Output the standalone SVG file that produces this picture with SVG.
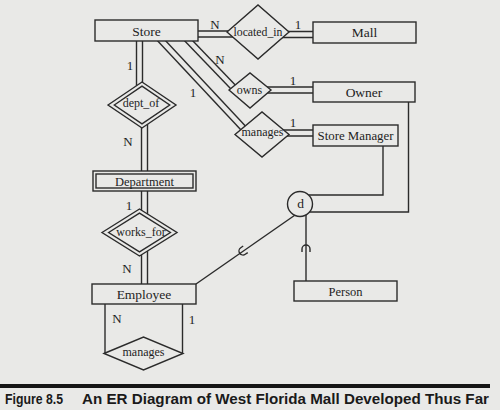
<svg xmlns="http://www.w3.org/2000/svg" width="500" height="410" viewBox="0 0 500 410">
<defs>
<style>
.bg{fill:#e9e9e7}
.shape{fill:#e9e9e7;stroke:#2b2b2b;stroke-width:1.4}
.ln{fill:none;stroke:#2b2b2b;stroke-width:1.4}
.dblo{fill:none;stroke:#2b2b2b;stroke-width:7.4}
.dbli{fill:none;stroke:#e9e9e7;stroke-width:4.6}
.t{font-family:"Liberation Serif","Times New Roman",serif;fill:#1e1e1e;text-anchor:middle}
.ent{font-size:13.5px}
.rel{font-size:12px}
.card{font-size:13px}
.cap{font-family:"Liberation Sans",Arial,sans-serif;font-weight:bold;font-size:14px;fill:#1a1a1a}
</style>
</defs>
<rect class="bg" x="0" y="0" width="500" height="410"/>

<g id="connectors">
  <g class="dblo">
    <path d="M198,34 H240"/>
    <path d="M276,34.5 H313"/>
    <path d="M262,90 H313"/>
    <path d="M276,133 H313"/>
    <path d="M186,38 L236,90"/>
    <path d="M159,38 L246,131"/>
    <path d="M139.5,41 V95"/>
    <path d="M144.5,115 V171"/>
    <path d="M144.5,191 V220"/>
    <path d="M144.5,245 V284"/>
  </g>
  <g class="dbli">
    <path d="M196,34 H242"/>
    <path d="M274,34.5 H315"/>
    <path d="M260,90 H315"/>
    <path d="M274,133 H315"/>
    <path d="M186,38 L236,90"/>
    <path d="M159,38 L246,131"/>
    <path d="M139.5,39 V97"/>
    <path d="M144.5,113 V173"/>
    <path d="M144.5,189 V222"/>
    <path d="M144.5,243 V286"/>
  </g>
  <path class="ln" d="M105,304 V353.5"/>
  <path class="ln" d="M182.5,304 V353.5"/>
  <path class="ln" d="M383,146 V195 H300"/>
  <path class="ln" d="M408.5,102 V212 H300"/>
  <path class="ln" d="M298,213 L196,284"/>
  <path class="ln" d="M306,214 V281"/>
  <path class="ln" d="M-4,3 V0 A4,4 0 0 1 4,0 V3" transform="translate(306,249)"/>
  <path class="ln" d="M-4,3 V0 A4,4 0 0 1 4,0 V3" transform="translate(243,251) rotate(-124.6)"/>
  <g class="t card">
    <text x="215" y="29">N</text>
    <text x="298" y="29">1</text>
    <text x="220" y="64">N</text>
    <text x="293" y="85">1</text>
    <text x="193" y="97">1</text>
    <text x="293" y="127">1</text>
    <text x="130" y="70">1</text>
    <text x="128" y="145.5">N</text>
    <text x="129" y="210">1</text>
    <text x="127" y="273">N</text>
    <text x="117" y="323">N</text>
    <text x="192" y="324">1</text>
  </g>
</g>

<g id="store">
  <rect class="shape" x="95" y="20" width="103" height="21"/>
  <text class="t ent" x="146.5" y="35.5">Store</text>
</g>
<g id="located_in">
  <polygon class="shape" points="227,32 258,5 289,32 258,59"/>
  <text class="t rel" x="258" y="35.5" textLength="49" lengthAdjust="spacingAndGlyphs">located_in</text>
</g>
<g id="mall">
  <rect class="shape" x="313" y="22" width="103" height="21"/>
  <text class="t ent" x="364.5" y="37">Mall</text>
</g>
<g id="owns">
  <polygon class="shape" points="229,90 250,73 271,90 250,108"/>
  <text class="t rel" x="249.5" y="94">owns</text>
</g>
<g id="owner">
  <rect class="shape" x="313" y="82" width="102" height="20"/>
  <text class="t ent" x="364" y="96.5">Owner</text>
</g>
<g id="manages_store">
  <polygon class="shape" points="235,134.5 262,112 289,134.5 262,157"/>
  <text class="t rel" x="262.5" y="136">manages</text>
</g>
<g id="store_manager">
  <rect class="shape" x="313" y="125" width="85" height="21"/>
  <text class="t ent" x="355.5" y="139.5" textLength="76" lengthAdjust="spacingAndGlyphs">Store Manager</text>
</g>
<g id="dept_of">
  <polygon class="shape" points="108,105 142,82 176,105 142,128"/>
  <polygon class="shape" points="114.3,105 142,86.2 169.7,105 142,123.8"/>
  <text class="t rel" x="141" y="107">dept_of</text>
</g>
<g id="department">
  <rect class="shape" x="93" y="171" width="103" height="20"/>
  <rect class="shape" x="96" y="174" width="97" height="14"/>
  <text class="t" style="font-size:12.5px" x="144.5" y="185.5">Department</text>
</g>
<g id="works_for">
  <polygon class="shape" points="102,232.5 139.5,209 177,232.5 139.5,256"/>
  <polygon class="shape" points="108.6,232.5 139.5,213.1 170.4,232.5 139.5,251.9"/>
  <text class="t rel" x="141" y="236">works_for</text>
</g>
<g id="employee">
  <rect class="shape" x="92" y="284" width="104" height="20"/>
  <text class="t ent" x="144" y="298.5">Employee</text>
</g>
<g id="manages_emp">
  <polygon class="shape" points="104,353.5 143.5,337 183,353.5 143.5,370"/>
  <text class="t rel" x="143.5" y="356">manages</text>
</g>
<g id="d_circle">
  <circle class="shape" cx="300" cy="204" r="12.5"/>
  <text class="t ent" x="300.5" y="208">d</text>
</g>
<g id="person">
  <rect class="shape" x="294" y="281" width="103" height="20"/>
  <text class="t" style="font-size:12.5px" x="345.5" y="295.5">Person</text>
</g>

<g id="caption">
  <rect x="0" y="384" width="490" height="4" fill="#151515"/>
  <text class="cap" x="5" y="403.5" textLength="58" lengthAdjust="spacingAndGlyphs">Figure 8.5</text>
  <text class="cap" x="82" y="403.5" textLength="407" lengthAdjust="spacingAndGlyphs">An ER Diagram of West Florida Mall Developed Thus Far</text>
</g>
</svg>
